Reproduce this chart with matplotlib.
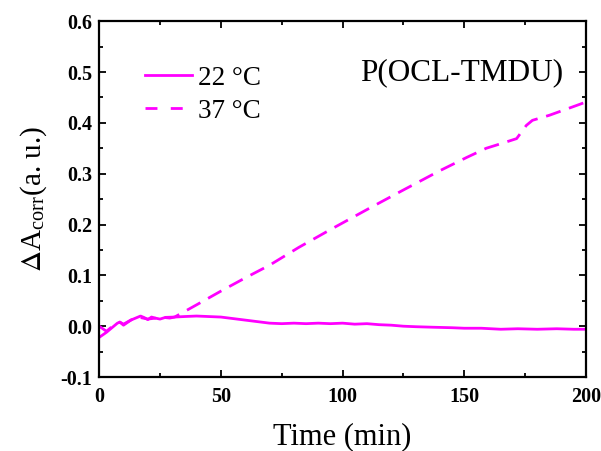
import matplotlib
matplotlib.use("Agg")
import matplotlib.pyplot as plt
from matplotlib.ticker import MultipleLocator

# Data
t22 = [0, 1.5, 3, 4.5, 6, 7.5, 8.5, 10, 11.5, 13, 15, 17, 18.5, 20, 21.5, 23, 25, 27, 29, 31,
       35, 40, 45, 50, 55, 60, 65, 70, 75, 80, 85, 90, 95, 100, 105, 110, 115, 120, 125,
       130, 137, 145, 150, 157, 165, 172, 180, 188, 195, 200]
a22 = [-0.022, -0.017, -0.012, -0.006, 0.000, 0.006, 0.008, 0.002, 0.007, 0.012, 0.016, 0.020, 0.017, 0.013, 0.018, 0.016, 0.014, 0.017, 0.016, 0.018,
       0.019, 0.020, 0.019, 0.018, 0.015, 0.012, 0.009, 0.006, 0.005, 0.006, 0.005, 0.006, 0.005, 0.006, 0.004, 0.005, 0.003, 0.002, 0.000,
       -0.001, -0.002, -0.003, -0.004, -0.004, -0.006, -0.005, -0.006, -0.005, -0.006, -0.006]

t37 = [0, 3, 6, 8.5, 10, 13, 16, 20, 25, 31, 40, 50, 60, 70, 82, 95, 111, 125, 140, 151, 159,
       165, 171.5, 173.5, 175.5, 178, 185, 196, 200]
a37 = [0.000, -0.010, 0.002, 0.008, 0.004, 0.012, 0.018, 0.014, 0.017, 0.018, 0.042, 0.069, 0.095, 0.120, 0.155, 0.190, 0.232, 0.268, 0.306, 0.332, 0.350,
       0.359, 0.369, 0.382, 0.395, 0.405, 0.415, 0.434, 0.441]

labels = ["22 °C", "37 °C"]
title_text = "P(OCL-TMDU)"

plt.rcParams['font.family'] = ['Liberation Serif', 'DejaVu Serif']
plt.rcParams['mathtext.fontset'] = 'stix'

fig = plt.figure(figsize=(6.01, 4.51), dpi=100)
ax = fig.add_axes([0.165, 0.164, 0.81, 0.789])

col = '#ff00ff'
ax.plot(t22, a22, color=col, lw=2.0, label=labels[0])
ax.plot(t37, a37, color=col, lw=2.0, dashes=(5.5, 3.2), label=labels[1])

ax.set_xlim(0, 200)
ax.set_ylim(-0.1, 0.6)
ax.xaxis.set_major_locator(MultipleLocator(50))
ax.xaxis.set_minor_locator(MultipleLocator(25))
ax.yaxis.set_major_locator(MultipleLocator(0.1))
ax.yaxis.set_minor_locator(MultipleLocator(0.05))
ax.yaxis.set_major_formatter(plt.FuncFormatter(lambda v, p: f"{v:.1f}"))

ax.tick_params(which='both', direction='in', top=True, right=True, width=1.3)
ax.tick_params(which='major', length=5, labelsize=14.5)
ax.tick_params(axis='x', which='major', pad=7)
ax.tick_params(axis='y', which='major', pad=5)
ax.tick_params(which='minor', length=3)
for lab in ax.get_xticklabels() + ax.get_yticklabels():
    lab.set_fontweight('bold')
for s in ax.spines.values():
    s.set_linewidth(1.6)

ax.set_xlabel("Time (min)", fontsize=22, labelpad=11)
ax.set_ylabel(r"$\Delta$A$_{\mathregular{corr}}$(a. u.)", fontsize=21, labelpad=8)

leg = ax.legend(loc='upper left', bbox_to_anchor=(0.072, 0.905), frameon=False,
                fontsize=19.5, handlelength=1.75, labelspacing=0.3, handletextpad=0.2,
                borderaxespad=0)
leg.get_lines()[1].set_dashes((4.3, 4.8))
ax.text(0.953, 0.854, title_text, transform=ax.transAxes, fontsize=22.5,
        ha='right', va='center')

fig.savefig("out.png", dpi=100)
